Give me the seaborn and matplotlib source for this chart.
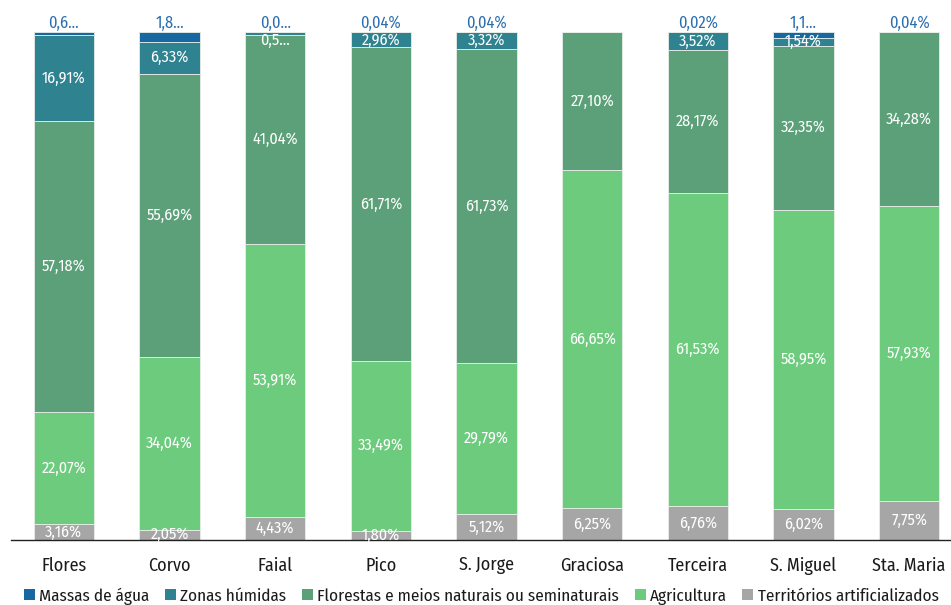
import matplotlib
matplotlib.use("Agg")
import matplotlib.pyplot as plt
from matplotlib.patches import Patch
import seaborn as sns
import pandas as pd
import numpy as np

# Land cover share (%) per island, Azores
islands = ["Flores", "Corvo", "Faial", "Pico", "S. Jorge", "Graciosa",
           "Terceira", "S. Miguel", "Sta. Maria"]
artificial = [3.16, 2.05, 4.43, 1.80, 5.12, 6.25, 6.76, 6.02, 7.75]
agriculture = [22.07, 34.04, 53.91, 33.49, 29.79, 66.65, 61.53, 58.95, 57.93]
forests = [57.18, 55.69, 41.04, 61.71, 61.73, 27.10, 28.17, 32.35, 34.28]
wetlands = [16.91, 6.33, 0.57, 2.96, 3.32, 0.0, 3.52, 1.54, 0.0]
water = [0.68, 1.89, 0.05, 0.04, 0.04, 0.0, 0.02, 1.14, 0.04]

series_names = ["Territórios artificializados", "Agricultura",
                "Florestas e meios naturais ou seminaturais",
                "Zonas húmidas", "Massas de água"]
series_values = [artificial, agriculture, forests, wetlands, water]
colors = ["#a6a6a6", "#6dcb7e", "#5ba078", "#2f8391", "#1767a2"]

# labels that do not fit and get shortened
shortened = {("Flores", "Massas de água"), ("Corvo", "Massas de água"),
             ("Faial", "Massas de água"), ("Faial", "Zonas húmidas"),
             ("S. Miguel", "Massas de água")}

sns.set_theme(style="white")
plt.rcParams["font.family"] = ["Fira Sans Condensed", "DejaVu Sans"]

fig = plt.figure(figsize=(9.51, 6.05), dpi=100)
ax = fig.add_axes([11 / 951, 65 / 605, 951 / 951, 508 / 605])

bottom = np.zeros(len(islands))
for name, vals, col in zip(series_names, series_values, colors):
    df = pd.DataFrame({"island": islands, "value": vals})
    sns.barplot(data=df, x="island", y="value", order=islands, color=col,
                bottom=bottom, width=0.57, edgecolor="#e8eee9", linewidth=0.6,
                ax=ax, saturation=1)
    for i, (isl, v) in enumerate(zip(islands, vals)):
        if v <= 0:
            continue
        txt = f"{v:.2f}".replace(".", ",") + "%"
        if (isl, name) in shortened:
            txt = txt[:3] + "..."
        if name == "Massas de água":
            ax.text(i, 101.8, txt, ha="center", va="center", color="#2a6eb0",
                    fontsize=11.8, clip_on=False)
        else:
            y = min(bottom[i] + v / 2, 98.3)
            ax.text(i, y, txt, ha="center", va="center", color="white",
                    fontsize=11.6)
    bottom += np.array(vals)

ax.set_xlim(-0.5, len(islands) - 0.5)
ax.set_ylim(0, 100)
ax.set_xlabel("")
ax.set_ylabel("")
ax.set_yticks([])
for s in ["top", "right", "left"]:
    ax.spines[s].set_visible(False)
ax.spines["bottom"].set_color("#222222")
ax.spines["bottom"].set_linewidth(1.0)
ax.set_xticks(np.arange(-0.5, len(islands)), minor=True)
ax.tick_params(axis="x", which="minor", length=8, width=1, color="#222222",
               direction="out")
ax.tick_params(axis="x", which="major", length=0, pad=12, labelsize=13,
               labelcolor="#1a1a1a")

handles = [Patch(facecolor=c, edgecolor="none", label=n)
           for n, c in zip(series_names[::-1], colors[::-1])]
fig.legend(handles=handles, loc="center left", bbox_to_anchor=(24 / 951, 1 - 596 / 605),
           ncol=5, frameon=False, fontsize=12.3, handlelength=0.65, handleheight=0.65,
           handletextpad=0.25, columnspacing=0.9, borderaxespad=0, borderpad=0,
           labelcolor="#1a1a1a")

fig.savefig("out.png", dpi=100)
